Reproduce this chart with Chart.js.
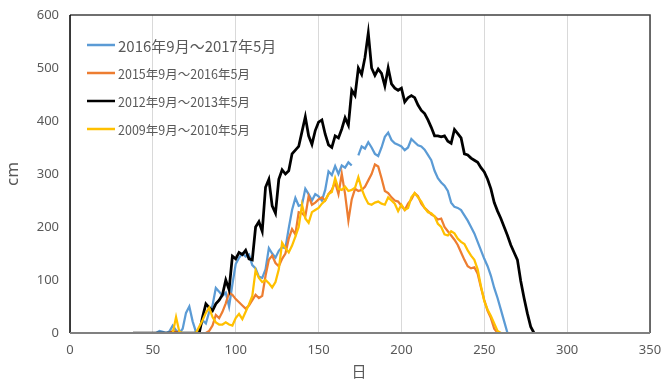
<!DOCTYPE html>
<html>
<head>
<meta charset="utf-8">
<script src="https://cdn.jsdelivr.net/npm/chart.js@4.4.0/dist/chart.umd.min.js"></script>
<style>
  html, body { margin: 0; padding: 0; background: #fff; }
  #wrap { width: 662px; height: 380px; }
</style>
</head>
<body>
<div id="wrap"><canvas id="snowChart" width="662" height="380"></canvas></div>
<script>
// 日数 (2日おき)
const days = [
  36, 38, 40, 42, 44, 46, 48, 50, 52, 54,
  56, 58, 60, 62, 64, 66, 68, 70, 72, 74,
  76, 78, 80, 82, 84, 86, 88, 90, 92, 94,
  96, 98, 100, 102, 104, 106, 108, 110, 112, 114,
  116, 118, 120, 122, 124, 126, 128, 130, 132, 134,
  136, 138, 140, 142, 144, 146, 148, 150, 152, 154,
  156, 158, 160, 162, 164, 166, 168, 170, 172, 174,
  176, 178, 180, 182, 184, 186, 188, 190, 192, 194,
  196, 198, 200, 202, 204, 206, 208, 210, 212, 214,
  216, 218, 220, 222, 224, 226, 228, 230, 232, 234,
  236, 238, 240, 242, 244, 246, 248, 250, 252, 254,
  256, 258, 260, 262, 264, 266, 268, 270, 272, 274,
  276, 278, 280
];

// 積雪深 (cm)
const snow2016 = [
  null, 0, 0, 0, 0, 0, 0, 0, 0, 4,
  2, 0, 3, 14, 5, 0, 8, 38, 50, 22,
  2, 6, 24, 18, 40, 52, 85, 78, 70, 76,
  50, 92, 130, 142, 150, 144, 148, 128, 122, 106,
  104, 120, 160, 150, 142, 155, 162, 160, 198, 232,
  255, 240, 242, 272, 262, 250, 262, 258, 250, 270,
  305, 298, 315, 300, 316, 312, 322, 316, null, 335,
  352, 348, 360, 350, 338, 334, 350, 370, 378, 364,
  358, 355, 352, 345, 350, 366, 360, 354, 352, 346,
  336, 326, 306, 292, 284, 278, 268, 246, 238, 236,
  232, 222, 212, 200, 188, 172, 156, 140, 126, 108,
  85, 66, 44, 22, 0, null, null, null, null, null,
  null, null, null
];

const snow2015 = [
  null, 0, 0, 0, 0, 0, 0, 0, 0, 0,
  0, 0, 0, 4, 2, 0, 0, 0, 0, 0,
  0, 0, 0, 0, 4, 14, 34, 28, 40, 56,
  76, 72, 64, 58, 52, 46, 52, 62, 72, 66,
  70, 108, 138, 146, 132, 126, 140, 150, 178, 196,
  186, 228, 226, 220, 258, 242, 246, 252, 256, 250,
  262, 270, 284, 262, 300, 262, 212, 252, 272, 268,
  270, 276, 288, 300, 318, 314, 292, 268, 264, 256,
  250, 248, 240, 232, 244, 252, 264, 258, 244, 236,
  230, 224, 220, 214, 216, 200, 192, 184, 176, 166,
  152, 138, 126, 122, 124, 112, 86, 62, 42, 28,
  8, 0, null, null, null, null, null, null, null, null,
  null, null, null
];

const snow2012 = [
  null, 0, 0, 0, 0, 0, 0, 0, 0, 0,
  0, 0, 0, 0, 0, 0, 0, 0, 0, 0,
  0, 0, 30, 55, 48, 42, 55, 62, 72, 100,
  82, 145, 140, 152, 148, 156, 140, 138, 200, 210,
  192, 275, 290, 240, 226, 290, 308, 300, 306, 338,
  345, 352, 380, 408, 372, 356, 382, 398, 402, 375,
  355, 350, 372, 368, 385, 406, 392, 458, 448, 500,
  488, 520, 566, 500, 486, 498, 490, 466, 500, 470,
  462, 458, 462, 436, 444, 448, 444, 430, 420, 414,
  402, 388, 372, 372, 370, 372, 362, 358, 384, 376,
  368, 338, 336, 330, 326, 322, 312, 304, 290, 272,
  246, 230, 216, 200, 184, 166, 152, 138, 98, 66,
  37, 12, 0
];

const snow2009 = [
  null, 0, 0, 0, 0, 0, 0, 0, 0, 0,
  0, 0, 0, 0, 30, 2, 0, 0, 0, 0,
  0, 12, 24, 38, 48, 30, 20, 16, 16, 20,
  16, 14, 28, 36, 26, 40, 54, 70, 118, 104,
  96, 100, 94, 86, 96, 120, 170, 160, 152, 165,
  182, 200, 242, 216, 208, 228, 232, 236, 244, 250,
  262, 266, 292, 272, 270, 276, 268, 270, 274, 294,
  272, 256, 244, 242, 246, 248, 244, 242, 256, 250,
  244, 230, 242, 232, 236, 256, 264, 256, 248, 236,
  228, 226, 220, 206, 200, 186, 184, 192, 188, 178,
  172, 168, 156, 146, 138, 120, 88, 60, 44, 32,
  18, 4, 0, null, null, null, null, null, null, null,
  null, null, null
];

const seriesNames = ['2016年9月～2017年5月', '2015年9月～2016年5月', '2012年9月～2013年5月', '2009年9月～2010年5月'];
const xTicks = [0, 50, 100, 150, 200, 250, 300, 350];
const yTicks = [0, 100, 200, 300, 400, 500, 600];

const colores = ['#5B9BD5', '#ED7D31', '#000000', '#FFC000'];
const grosor = [2.25, 2.25, 2.75, 2.25];
const orden = [4, 3, 2, 1]; // el último se dibuja encima, como en Excel
const textGray = '#595959';

function puntos(vals) {
  return days.map((d, i) => ({ x: d, y: vals[i] }));
}

// Marco, leyenda y títulos de ejes
const extras = {
  id: 'extras',
  afterDatasetsDraw(chart) {
    const { ctx, chartArea: a } = chart;
    ctx.save();
    ctx.lineWidth = 1.5;
    ctx.strokeStyle = '#404040';
    ctx.beginPath();
    ctx.moveTo(a.left, a.top);
    ctx.lineTo(a.right, a.top);
    ctx.lineTo(a.right, a.bottom);
    ctx.stroke();
    ctx.strokeStyle = '#000';
    ctx.beginPath();
    ctx.moveTo(a.left, a.top);
    ctx.lineTo(a.left, a.bottom);
    ctx.stroke();
    ctx.strokeStyle = '#808080';
    ctx.lineWidth = 2;
    ctx.beginPath();
    ctx.moveTo(a.left, a.bottom);
    ctx.lineTo(a.right, a.bottom);
    ctx.stroke();

    // leyenda
    seriesNames.forEach((name, i) => {
      const y = a.top + 30 + i * 28;
      ctx.strokeStyle = colores[i];
      ctx.lineWidth = 2.5;
      ctx.beginPath();
      ctx.moveTo(a.left + 17, y);
      ctx.lineTo(a.left + 45, y);
      ctx.stroke();
      ctx.fillStyle = textGray;
      ctx.textBaseline = 'middle';
      ctx.textAlign = 'left';
      ctx.font = (i === 0 ? '15px' : '12.5px') + ' "Noto Sans CJK JP", "Noto Sans", sans-serif';
      ctx.fillText(name, a.left + 48, y + 1);
    });

    // títulos
    ctx.fillStyle = textGray;
    ctx.textAlign = 'center';
    ctx.textBaseline = 'middle';
    ctx.font = '15px "Noto Sans CJK JP", sans-serif';
    ctx.fillText('日', 359, 371);
    ctx.translate(13, 174);
    ctx.rotate(-Math.PI / 2);
    ctx.font = '17px "Noto Sans", sans-serif';
    ctx.fillText('cm', 0, 0);
    ctx.restore();
  }
};

new Chart(document.getElementById('snowChart'), {
  type: 'line',
  data: {
    datasets: seriesNames.map((name, i) => ({
      label: name,
      data: puntos([snow2016, snow2015, snow2012, snow2009][i]),
      borderColor: colores[i],
      borderWidth: grosor[i],
      pointRadius: 0,
      tension: 0,
      fill: false,
      spanGaps: false,
      order: orden[i]
    }))
  },
  options: {
    responsive: false,
    animation: false,
    layout: { padding: { top: 15, right: 12, left: 0, bottom: 0 } },
    plugins: { legend: { display: false }, tooltip: { enabled: false } },
    scales: {
      x: {
        type: 'linear',
        min: 0,
        max: 350,
        afterBuildTicks: s => { s.ticks = xTicks.map(v => ({ value: v })); },
        afterFit: s => { s.height = 47; s.paddingLeft = 0; s.paddingRight = 0; },
        grid: { color: '#d9d9d9', lineWidth: 1, drawTicks: false },
        border: { display: false },
        ticks: { padding: 9, color: textGray, font: { family: 'Noto Sans', size: 13 }, maxRotation: 0 }
      },
      y: {
        min: 0,
        max: 600,
        afterBuildTicks: s => { s.ticks = yTicks.map(v => ({ value: v })); },
        afterFit: s => { s.width = 70; s.paddingTop = 0; s.paddingBottom = 0; },
        grid: { display: false, drawTicks: false },
        border: { display: false },
        ticks: { padding: 11, color: textGray, font: { family: 'Noto Sans', size: 13 } }
      }
    }
  },
  plugins: [extras]
});
</script>
</body>
</html>
